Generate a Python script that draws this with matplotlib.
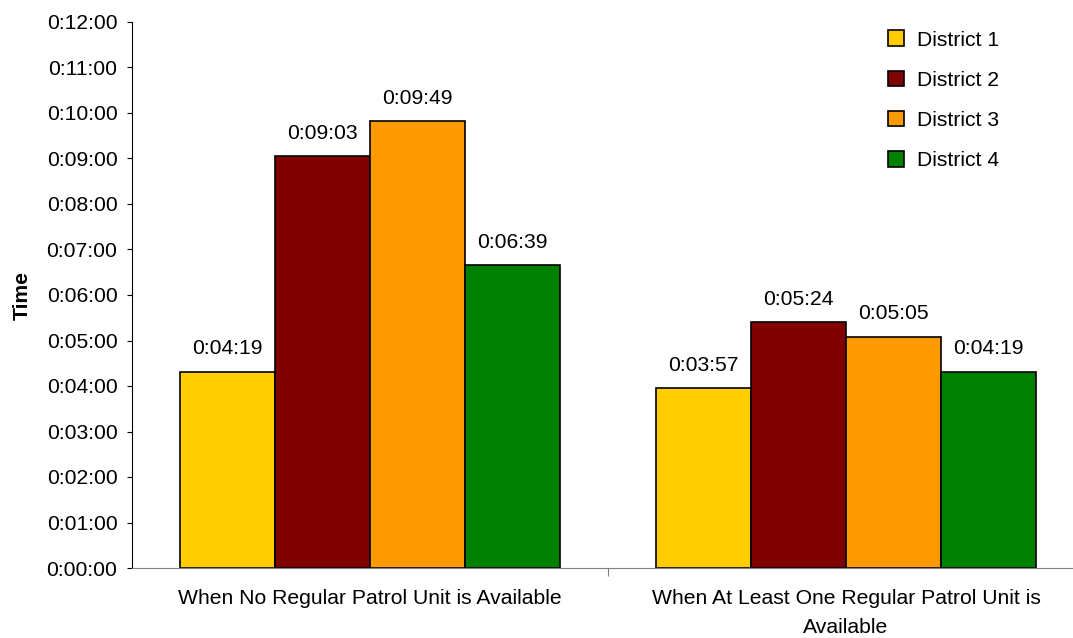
import numpy as np
from matplotlib import pyplot as plt
from matplotlib.ticker import FuncFormatter, MultipleLocator

plt.rcParams['font.family'] = ['Liberation Sans', 'DejaVu Sans']

categories = ["When No Regular Patrol Unit is Available",
              "When At Least One Regular Patrol Unit is\nAvailable"]
districts = ["District 1", "District 2", "District 3", "District 4"]
# response times in seconds
d1 = [259, 237]   # 0:04:19, 0:03:57
d2 = [543, 324]   # 0:09:03, 0:05:24
d3 = [589, 305]   # 0:09:49, 0:05:05
d4 = [399, 259]   # 0:06:39, 0:04:19
series = [d1, d2, d3, d4]
colors = ["#FFCC00", "#800000", "#FF9900", "#008000"]
fs = 15.2


def hms(v, pos=None):
    v = int(round(v))
    return "%d:%02d:%02d" % (v // 3600, (v % 3600) // 60, v % 60)


fig = plt.figure(figsize=(10.73, 6.38), dpi=100)
ax = fig.add_axes([132 / 1073, 1 - 568 / 638, 952 / 1073, 546 / 638])

x = np.arange(len(categories))
w = 0.2
for i, (vals, name) in enumerate(zip(series, districts)):
    pos = x + (i - 1.5) * w
    ax.bar(pos, vals, w, color=colors[i], edgecolor="black", linewidth=1.2,
           label=name)
    for p, v in zip(pos, vals):
        ax.text(p, v + 18, hms(v), ha="center", va="bottom", fontsize=fs)

ax.set_xlim(-0.5, 1.5)
ax.set_ylim(0, 720)
ax.yaxis.set_major_locator(MultipleLocator(60))
ax.yaxis.set_major_formatter(FuncFormatter(hms))
ax.set_xticks([0.5])
ax.set_xticklabels([""])
ax.tick_params(axis="x", length=6, color="#808080")
ax.tick_params(axis="y", length=3.5, labelsize=fs, pad=7)
for i, c in enumerate(categories):
    ax.text(x[i], -28, c, ha="center", va="top", fontsize=fs,
            linespacing=1.65)

ax.spines["top"].set_visible(False)
ax.spines["right"].set_visible(False)
ax.spines["bottom"].set_color("#808080")
ax.set_ylabel("Time", fontsize=fs, fontweight="bold", labelpad=11)

ax.legend(loc="upper left", bbox_to_anchor=(880 / 1073, 1 - 22 / 638),
          bbox_transform=fig.transFigure, frameon=False, fontsize=fs,
          handlelength=0.75, handleheight=0.75, handletextpad=0.6,
          labelspacing=1.0, borderaxespad=0)

plt.savefig("out.png", dpi=100)
